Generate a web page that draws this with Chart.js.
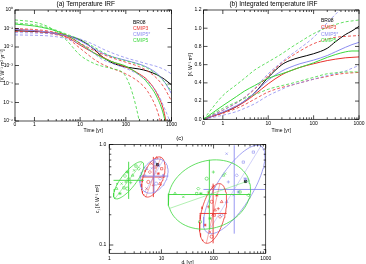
<!DOCTYPE html>
<html>
<head>
<meta charset="utf-8">
<script src="https://cdn.jsdelivr.net/npm/chart.js@4.4.1/dist/chart.umd.min.js"></script>
<style>
  body { margin: 0; width: 366px; height: 264px; overflow: hidden; background: #fff; position: relative; }
  canvas { position: absolute; }
</style>
</head>
<body>
<canvas id="graficoIrf" width="183" height="134" style="left:0;top:0"></canvas>
<canvas id="graficoInt" width="183" height="134" style="left:183px;top:0"></canvas>
<canvas id="graficoPar" width="200" height="134" style="left:82px;top:132px"></canvas>
<script>
// dados
const tempo = [0, 1, 2, 3, 5, 10, 20, 30, 50, 100, 200, 300, 500, 700, 1000];
const series = ['BR08', 'CMIP3', 'CMIP5*', 'CMIP5'];
const cores = ['#000000', '#e8302c', '#8c8cf0', '#3cd83c'];

// (a) IRF de temperatura
const irfBR08 = [0.076, 0.070, 0.062, 0.054, 0.042, 0.024, 0.0077, 0.0031, 0.0014, 0.00083, 0.00064, 0.0005, 0.0003, 0.00018, 0.00009];
const irfCMIP3 = [0.089, 0.076, 0.062, 0.05, 0.036, 0.0126, 0.0048, 0.003, 0.0016, 0.00084, 0.00034, 0.00016, 2.5e-5, 2.5e-6, 1e-8];
const irfCMIP5e = [0.089, 0.076, 0.064, 0.054, 0.041, 0.0217, 0.0083, 0.0048, 0.003, 0.0019, 0.00118, 0.00078, 0.00034, 0.00013, 3e-5];
const irfCMIP5 = [0.174, 0.136, 0.097, 0.073, 0.044, 0.0156, 0.0048, 0.0027, 0.0016, 0.00092, 0.0003, 0.000114, 1.6e-5, 1.4e-6, 1e-8];
const irfCMIP3Alto = [0.1, 0.088, 0.073, 0.06, 0.043, 0.016, 0.0065, 0.0042, 0.0026, 0.0015, 0.00085, 0.0005, 0.00018, 6e-5, 1.2e-5];
const irfCMIP3Baixo = [0.07, 0.064, 0.055, 0.046, 0.032, 0.0085, 0.0022, 0.0012, 0.0007, 0.00035, 0.00012, 4e-5, 3e-6, 1e-7, 1e-9];
const irfCMIP5eAlto = [0.06, 0.057, 0.053, 0.049, 0.041, 0.027, 0.0135, 0.0082, 0.0048, 0.0026, 0.0016, 0.0012, 0.00085, 0.0006, 0.00035];
const irfCMIP5eBaixo = [0.045, 0.043, 0.04, 0.036, 0.028, 0.014, 0.0045, 0.0022, 0.0013, 0.0007, 0.0003, 0.00014, 3e-5, 5e-6, 6e-7];
const irfCMIP5Alto = [0.2, 0.16, 0.11, 0.08, 0.05, 0.025, 0.01, 0.0055, 0.003, 0.0018, 0.0011, 0.0007, 0.0003, 0.00013, 4e-5];
const irfCMIP5Baixo = [0.29, 0.22, 0.125, 0.067, 0.0236, 0.0036, 0.0013, 0.00092, 0.00068, 0.00025, 8e-7, 1e-9, 1e-9, 1e-9, 1e-9];

// (b) IRF integrada
const intBR08 = [0, 0.075, 0.14, 0.2, 0.29, 0.46, 0.6, 0.645, 0.68, 0.72, 0.78, 0.85, 0.93, 0.97, 1.02];
const intCMIP3 = [0, 0.075, 0.14, 0.19, 0.27, 0.39, 0.49, 0.53, 0.57, 0.61, 0.645, 0.66, 0.675, 0.68, 0.685];
const intCMIP5e = [0, 0.08, 0.15, 0.2, 0.29, 0.43, 0.53, 0.57, 0.61, 0.65, 0.7, 0.74, 0.79, 0.82, 0.845];
const intCMIP5 = [0, 0.15, 0.25, 0.31, 0.37, 0.45, 0.5, 0.53, 0.57, 0.62, 0.68, 0.71, 0.74, 0.75, 0.75];
const intCMIP3Alto = [0, 0.1, 0.18, 0.24, 0.33, 0.48, 0.62, 0.68, 0.75, 0.83, 0.88, 0.9, 0.91, 0.915, 0.92];
const intCMIP3Baixo = [0, 0.065, 0.12, 0.16, 0.22, 0.3, 0.35, 0.37, 0.4, 0.44, 0.47, 0.49, 0.505, 0.51, 0.515];
const intCMIP5eAlto = [0, 0.1, 0.18, 0.24, 0.34, 0.5, 0.63, 0.7, 0.78, 0.9, 1.06, 1.15, 1.26, 1.33, 1.4];
const intCMIP5eBaixo = [0, 0.045, 0.085, 0.12, 0.17, 0.26, 0.33, 0.37, 0.4, 0.44, 0.48, 0.5, 0.53, 0.56, 0.59];
const intCMIP5Alto = [0, 0.26, 0.38, 0.45, 0.54, 0.63, 0.72, 0.78, 0.85, 0.94, 1.01, 1.04, 1.07, 1.08, 1.09];
const intCMIP5Baixo = [0, 0.12, 0.19, 0.23, 0.27, 0.33, 0.37, 0.39, 0.42, 0.46, 0.5, 0.51, 0.52, 0.52, 0.52];

// rotulos dos eixos
const tempoTiques = [0, 1, 10, 100, 1000];
const tempoRotulos = ['0', '1', '10', '100', '1000'];
const tempoMenores = [2, 3, 4, 5, 6, 7, 8, 9, 20, 30, 40, 50, 60, 70, 80, 90, 200, 300, 400, 500, 600, 700, 800, 900];
const irfTiques = [1e-6, 1e-5, 1e-4, 1e-3, 1e-2, 1e-1, 1];
const irfRotulos = ['10⁻⁶', '10⁻⁵', '10⁻⁴', '10⁻³', '10⁻²', '10⁻¹', '10⁰'];
const intTiques = [0, 0.2, 0.4, 0.6, 0.8, 1.0, 1.2];
const intRotulos = ['0.0', '0.2', '0.4', '0.6', '0.8', '1.0', '1.2'];

// (c) parametros (tempo de resposta e coeficiente)
const parGrupos = ['CMIP5', 'CMIP5*', 'CMIP3', 'CMIP5', 'CMIP3', 'CMIP5*'];
const elipseTau = [2.35, 7.2, 7.0, 83, 98, 249];
const elipseCoef = [0.44, 0.485, 0.475, 0.318, 0.206, 0.357];
const elipseSigTau = [0.29, 0.27, 0.225, 0.79, 0.26, 0.59];
const elipseSigCoef = [0.185, 0.17, 0.2, 0.345, 0.297, 0.44];
const elipseRho = [0.8, 0.3, 0.5, 0.15, 0.45, 0.75];

const tauCMIP5 = [1.38, 1.72, 1.91, 2.0, 2.21, 2.35, 2.57, 2.8, 3.0, 3.25, 3.66, 1.6, 2.21, 2.09,
  18.2, 26.3, 47.5, 51, 57, 73.8, 79.6, 154, 166, 322, 466, 85.5, 55, 99];
const coefCMIP5 = [0.364, 0.408, 0.37, 0.486, 0.532, 0.45, 0.417, 0.493, 0.553, 0.61, 0.574, 0.325, 0.364, 0.424,
  0.325, 0.301, 0.325, 0.364, 0.325, 0.457, 0.337, 0.493, 0.513, 0.337, 0.313, 0.184, 0.17, 0.532];
const tauCMIP3 = [8.1, 6.5, 7.5, 6.0, 8.7, 5.6, 7.0, 9.35, 5.2, 10.1,
  99, 115, 92, 79.6, 107, 96, 103, 133, 68.6, 92, 123, 143, 85];
const coefCMIP3 = [0.733, 0.644, 0.597, 0.532, 0.513, 0.424, 0.393, 0.408, 0.364, 0.574,
  0.378, 0.313, 0.269, 0.24, 0.222, 0.201, 0.198, 0.191, 0.158, 0.121, 0.23, 0.269, 0.135];
const tauCMIP5e = [5.2, 6.5, 8.7, 9.4, 10.9, 7.9, 4.8, 7.5,
  178, 580, 278, 402, 437, 192, 178, 240, 372, 143, 299];
const coefCMIP5e = [0.574, 0.58, 0.62, 0.457, 0.493, 0.408, 0.493, 0.668,
  0.81, 0.84, 0.493, 0.457, 0.44, 0.424, 0.269, 0.313, 0.668, 0.198, 0.337];
const tauBR08 = [8.4, 409.5];
const coefBR08 = [0.631, 0.429];
const parTauTiques = [1, 10, 100, 1000];
const parTauRotulos = ['1', '10', '100', '1000'];
const parCoefTiques = [0.1, 1];
const parCoefRotulos = ['0.1', '1.0'];
const parCoefMenores = [0.09, 0.2, 0.3, 0.4, 0.5, 0.6, 0.7, 0.8, 0.9];

Chart.defaults.font.family = "'Liberation Sans', Arial, sans-serif";
Chart.defaults.font.size = 5;
Chart.defaults.color = '#000';

// eixo de tempo: linear entre 0 e 1, logaritmico depois
const A = 0.426;
function eixoT(t) {
  return t <= 1 ? A * t : A + Math.log10(t);
}

function corDe(nome) {
  return cores[series.indexOf(nome)];
}

// tiques para dentro nos quatro lados + moldura
const tiquesInternos = {
  id: 'tiquesInternos',
  afterDraw(chart, args, opts) {
    const { ctx, chartArea: a, scales } = chart;
    ctx.save();
    ctx.strokeStyle = '#000';
    ctx.lineWidth = 0.7;
    ctx.strokeRect(a.left, a.top, a.right - a.left, a.bottom - a.top);
    ctx.beginPath();
    const marcarX = (lista, len) => (lista || []).forEach(v => {
      const p = scales.x.getPixelForValue(v);
      if (p < a.left - 0.5 || p > a.right + 0.5) return;
      ctx.moveTo(p, a.bottom); ctx.lineTo(p, a.bottom - len);
      ctx.moveTo(p, a.top); ctx.lineTo(p, a.top + len);
    });
    const marcarY = (lista, len) => (lista || []).forEach(v => {
      const p = scales.y.getPixelForValue(v);
      if (p < a.top - 0.5 || p > a.bottom + 0.5) return;
      ctx.moveTo(a.left, p); ctx.lineTo(a.left + len, p);
      ctx.moveTo(a.right, p); ctx.lineTo(a.right - len, p);
    });
    marcarX(opts.xMaior, 4); marcarX(opts.xMenor, 2);
    marcarY(opts.yMaior, 4); marcarY(opts.yMenor, 2);
    ctx.stroke();
    ctx.restore();
  }
};

// legenda so com texto colorido
const legendaTexto = {
  id: 'legendaTexto',
  afterDraw(chart, args, opts) {
    if (opts.x === undefined) return;
    const ctx = chart.ctx;
    ctx.save();
    ctx.font = '5px ' + Chart.defaults.font.family;
    ctx.textBaseline = 'middle';
    series.forEach((s, i) => {
      ctx.fillStyle = cores[i];
      ctx.fillText(s, opts.x, opts.y + i * opts.passo);
    });
    ctx.restore();
  }
};

function linha(valores, cor, tracejado) {
  return {
    data: tempo.map((t, i) => ({ x: eixoT(t), y: valores[i] })),
    borderColor: cor,
    borderWidth: tracejado ? 0.8 : 1,
    borderDash: tracejado ? [3, 2] : [],
    pointRadius: 0,
    cubicInterpolationMode: 'monotone',
    fill: false
  };
}

function opcoesTempo(yOpts, yTitulo, titulo, pad, legenda, yAfterFit, xAfterFit, tiquesY) {
  return {
    responsive: false,
    animation: false,
    devicePixelRatio: 1,
    layout: { padding: pad },
    plugins: {
      legend: { display: false },
      tooltip: { enabled: false },
      title: { display: true, text: titulo, font: { size: 6.5, weight: 'normal' }, padding: { top: 0.2, bottom: 2 } },
      tiquesInternos: {
        xMaior: tempoTiques.map(eixoT), xMenor: tempoMenores.map(eixoT),
        yMaior: tiquesY
      },
      legendaTexto: legenda
    },
    scales: {
      x: {
        type: 'linear', min: 0, max: eixoT(1000),
        grid: { display: false, drawTicks: false },
        border: { display: false },
        afterBuildTicks: ax => { ax.ticks = tempoTiques.map(t => ({ value: eixoT(t) })); },
        afterFit: xAfterFit,
        ticks: { autoSkip: false, maxRotation: 0, padding: 1, callback: (v, i) => tempoRotulos[i] },
        title: { display: true, text: 'Time [yr]', font: { size: 5 }, padding: 0 }
      },
      y: Object.assign({
        grid: { display: false, drawTicks: false },
        border: { display: false },
        afterFit: yAfterFit,
        title: { display: true, text: yTitulo, font: { size: 5 }, padding: 0 }
      }, yOpts)
    }
  };
}

// (a)
new Chart(document.getElementById('graficoIrf'), {
  type: 'line',
  data: {
    datasets: [
      linha(irfCMIP5Alto, cores[3], true), linha(irfCMIP5Baixo, cores[3], true),
      linha(irfCMIP5eAlto, cores[2], true), linha(irfCMIP5eBaixo, cores[2], true),
      linha(irfCMIP3Alto, cores[1], true), linha(irfCMIP3Baixo, cores[1], true),
      linha(irfCMIP5, cores[3], false), linha(irfCMIP5e, cores[2], false),
      linha(irfCMIP3, cores[1], false), linha(irfBR08, cores[0], false)
    ]
  },
  options: opcoesTempo(
    {
      type: 'logarithmic', min: 1e-6, max: 1,
      afterBuildTicks: ax => { ax.ticks = irfTiques.map(v => ({ value: v })); },
      ticks: { autoSkip: false, padding: 2, callback: (v, i) => irfRotulos[i] }
    },
    '[K W⁻¹ m² yr⁻¹]', '(a) Temperature IRF',
    { left: 0, right: 11.5, top: 0, bottom: 0 },
    { x: 133, y: 23, passo: 6 },
    s => { s.width = 15; }, s => { s.height = 13; }, irfTiques
  ),
  plugins: [tiquesInternos, legendaTexto]
});

// (b)
new Chart(document.getElementById('graficoInt'), {
  type: 'line',
  data: {
    datasets: [
      linha(intCMIP5Alto, cores[3], true), linha(intCMIP5Baixo, cores[3], true),
      linha(intCMIP5eAlto, cores[2], true), linha(intCMIP5eBaixo, cores[2], true),
      linha(intCMIP3Alto, cores[1], true), linha(intCMIP3Baixo, cores[1], true),
      linha(intCMIP5, cores[3], false), linha(intCMIP5e, cores[2], false),
      linha(intCMIP3, cores[1], false), linha(intBR08, cores[0], false)
    ]
  },
  options: opcoesTempo(
    {
      type: 'linear', min: 0, max: 1.2,
      afterBuildTicks: ax => { ax.ticks = intTiques.map(v => ({ value: v })); },
      ticks: { autoSkip: false, padding: 2, callback: (v, i) => intRotulos[i] }
    },
    '[K W⁻¹ m²]', '(b) Integrated temperature IRF',
    { left: 5, right: 7, top: 0, bottom: 0 },
    { x: 138, y: 21, passo: 6.6 },
    s => { s.width = 15.5; }, s => { s.height = 14.7; }, intTiques
  ),
  plugins: [tiquesInternos, legendaTexto]
});

// (c) elipses em espaco log-log
const ASPECTO = 1.94;
function contornoElipse(i) {
  const lx = Math.log10(elipseTau[i]), ly = Math.log10(elipseCoef[i]);
  const sx = elipseSigTau[i], sy = elipseSigCoef[i], r = elipseRho[i];
  const pts = [];
  for (let k = 0; k <= 72; k++) {
    const a = k / 72 * 2 * Math.PI;
    pts.push({
      x: 10 ** (lx + sx * Math.cos(a)),
      y: 10 ** (ly + sy * (r * Math.cos(a) + Math.sqrt(1 - r * r) * Math.sin(a)))
    });
  }
  return pts;
}

const dsPar = [];
parGrupos.forEach((g, i) => {
  const cor = corDe(g);
  const pts = contornoElipse(i);
  const lx = Math.log10(elipseTau[i]), ly = Math.log10(elipseCoef[i]);
  // eixo maior
  let melhor = 0, kMax = 0;
  for (let k = 0; k < 36; k++) {
    const dx = Math.log10(pts[k].x) - lx, dy = (Math.log10(pts[k].y) - ly) * ASPECTO;
    if (dx * dx + dy * dy > melhor) { melhor = dx * dx + dy * dy; kMax = k; }
  }
  dsPar.push({ data: pts, showLine: true, borderColor: cor, borderWidth: 0.8, pointRadius: 0 });
  dsPar.push({ data: [pts[kMax], pts[kMax + 36]], showLine: true, borderColor: cor, borderWidth: 0.4, pointRadius: 0 });
  dsPar.push({
    data: [
      { x: 10 ** (lx - elipseSigTau[i]), y: elipseCoef[i] }, { x: 10 ** (lx + elipseSigTau[i]), y: elipseCoef[i] },
      { x: elipseTau[i], y: null },
      { x: elipseTau[i], y: 10 ** (ly - elipseSigCoef[i]) }, { x: elipseTau[i], y: 10 ** (ly + elipseSigCoef[i]) }
    ],
    showLine: true, spanGaps: false, borderColor: cor, borderWidth: 0.9, pointRadius: 0
  });
});

const estilos = ['triangle', 'crossRot', 'rect', 'rectRot', 'star', 'circle', 'cross'];
function pontos(taus, coefs, cor, preenchido) {
  return {
    data: taus.map((t, i) => ({ x: t, y: coefs[i] })),
    borderColor: cor,
    backgroundColor: preenchido ? cor : 'rgba(0,0,0,0)',
    borderWidth: 0.6,
    pointRadius: 1.6,
    pointStyle: ctx => preenchido ? 'rect' : estilos[ctx.dataIndex % estilos.length]
  };
}
dsPar.push(pontos(tauCMIP5, coefCMIP5, corDe('CMIP5'), false));
dsPar.push(pontos(tauCMIP5e, coefCMIP5e, corDe('CMIP5*'), false));
dsPar.push(pontos(tauCMIP3, coefCMIP3, corDe('CMIP3'), false));
dsPar.push(pontos(tauBR08, coefBR08, corDe('BR08'), true));

new Chart(document.getElementById('graficoPar'), {
  type: 'scatter',
  data: { datasets: dsPar },
  options: {
    responsive: false,
    animation: false,
    devicePixelRatio: 1,
    layout: { padding: { left: 12, right: 16.3, top: 0, bottom: 0 } },
    plugins: {
      legend: { display: false },
      tooltip: { enabled: false },
      title: { display: true, text: '(c)', font: { size: 6, weight: 'normal' }, padding: { top: 2.4, bottom: 2.9 } },
      tiquesInternos: {
        xMaior: parTauTiques, xMenor: tempoMenores,
        yMaior: parCoefTiques, yMenor: parCoefMenores
      }
    },
    scales: {
      x: {
        type: 'logarithmic', min: 1, max: 1000,
        grid: { display: false, drawTicks: false },
        border: { display: false },
        afterBuildTicks: ax => { ax.ticks = parTauTiques.map(v => ({ value: v })); },
        afterFit: s => { s.height = 12.7; },
        ticks: { autoSkip: false, maxRotation: 0, padding: 2.5, callback: (v, i) => parTauRotulos[i] },
        title: { display: true, text: 'dⱼ [yr]', font: { size: 5 }, padding: 0 }
      },
      y: {
        type: 'logarithmic', min: 0.0827, max: 1,
        grid: { display: false, drawTicks: false },
        border: { display: false },
        afterBuildTicks: ax => { ax.ticks = parCoefTiques.map(v => ({ value: v })); },
        afterFit: s => { s.width = 15.3; },
        ticks: { autoSkip: false, padding: 3, callback: (v, i) => parCoefRotulos[i] },
        title: { display: true, text: 'cⱼ [K W⁻¹ m²]', font: { size: 5 }, padding: 0.7 }
      }
    }
  },
  plugins: [tiquesInternos]
});
</script>
</body>
</html>
